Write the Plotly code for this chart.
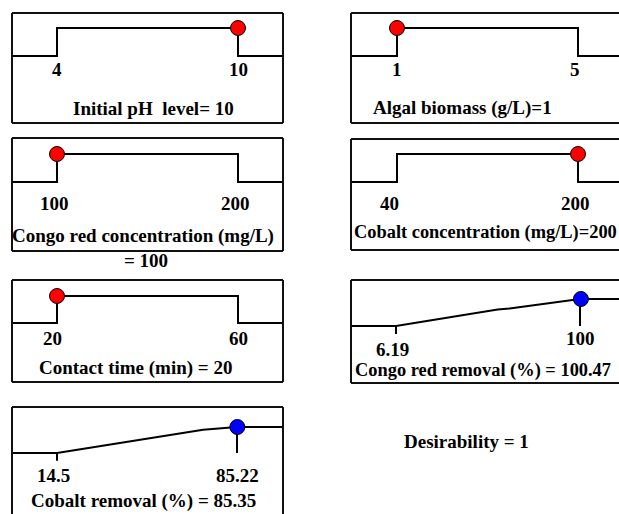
import plotly.graph_objects as go

# ---------------- data ----------------
# factor ranges and the chosen optimum setting
ph_limits = [4, 10]
ph_value = 10
biomass_limits = [1, 5]
biomass_value = 1
congo_conc_limits = [100, 200]
congo_conc_value = 100
cobalt_conc_limits = [40, 200]
cobalt_conc_value = 200
time_limits = [20, 60]
time_value = 20

# responses: limits, desirability ramp and predicted value
congo_removal_limits = [6.19, 100]
congo_removal_ramp_x = [6.19, 58.0, 64.1, 100]
congo_removal_ramp_d = [0, 0.61, 0.65, 1]
congo_removal_value = 100.47

cobalt_removal_limits = [14.5, 85.22]
cobalt_removal_ramp_x = [14.5, 71.9, 77.4, 85.22]
cobalt_removal_ramp_d = [0, 0.89, 0.93, 1]
cobalt_removal_value = 85.35

desirability = 1

# ---------------- layout helpers ----------------
W, H = 619, 514
FONT = "Liberation Serif"
FSIZE = 19
LINE = dict(color="black", width=2)


def px(x):
    return x / W


def py(y):
    return 1 - y / H


fig = go.Figure()
annotations = []
shapes = []


def panel(i, box_x, box_y, lo_hi_px, lo_hi_y, limits, sides="lrtb"):
    """Create axis pair i covering a pixel box; returns axis names."""
    bl, br = box_x
    bt, bb = box_y
    lo_px, hi_px = lo_hi_px
    hi_y, lo_y = lo_hi_y
    lo, hi = limits
    sx = (hi - lo) / (hi_px - lo_px)
    xr = [lo - (lo_px - bl) * sx, hi + (min(br, W) - hi_px) * sx]
    sy = 1.0 / (lo_y - hi_y)
    yr = [-(min(bb, H) - lo_y) * sy, 1 + (hi_y - bt) * sy]
    xa = "xaxis" if i == 1 else f"xaxis{i}"
    ya = "yaxis" if i == 1 else f"yaxis{i}"
    xn = "x" if i == 1 else f"x{i}"
    yn = "y" if i == 1 else f"y{i}"
    fig.update_layout({
        xa: dict(domain=[px(bl), px(min(br, W))], range=xr, visible=False,
                 anchor=yn, fixedrange=True),
        ya: dict(domain=[py(min(bb, H)), py(bt)], range=yr, visible=False,
                 anchor=xn, fixedrange=True),
    })
    xd, yd = f"{xn} domain", f"{yn} domain"
    edges = {"l": (0, 0, 0, 1), "r": (1, 0, 1, 1),
             "t": (0, 1, 1, 1), "b": (0, 0, 1, 0)}
    for s in sides:
        x0, y0, x1, y1 = edges[s]
        shapes.append(dict(type="line", xref=xd, yref=yd, x0=x0, y0=y0,
                           x1=x1, y1=y1, line=dict(color="#111", width=2)))
    return xn, yn, xr


def factor(i, box_x, box_y, lo_hi_px, lo_hi_y, limits, value, sides="lrtb"):
    xn, yn, xr = panel(i, box_x, box_y, lo_hi_px, lo_hi_y, limits, sides)
    lo, hi = limits
    fig.add_trace(go.Scatter(x=[xr[0], lo, lo, hi, hi, xr[1]],
                             y=[0, 0, 1, 1, 0, 0], mode="lines", line=LINE,
                             xaxis=xn, yaxis=yn, hoverinfo="skip"))
    fig.add_trace(go.Scatter(x=[value], y=[1], mode="markers",
                             marker=dict(size=15, color="#ff0000",
                                         line=dict(color="black", width=1)),
                             xaxis=xn, yaxis=yn))
    return xn, yn


def response(i, box_x, box_y, lo_hi_px, lo_hi_y, limits, rx, rd, value,
             sides="lrtb"):
    xn, yn, xr = panel(i, box_x, box_y, lo_hi_px, lo_hi_y, limits, sides)
    lo, hi = limits
    fig.add_trace(go.Scatter(x=[xr[0]] + rx + [xr[1]],
                             y=[rd[0]] + rd + [rd[-1]], mode="lines",
                             line=LINE, xaxis=xn, yaxis=yn, hoverinfo="skip"))
    fig.add_trace(go.Scatter(x=[lo, lo], y=[0, -0.3], mode="lines", line=LINE,
                             xaxis=xn, yaxis=yn, hoverinfo="skip"))
    fig.add_trace(go.Scatter(x=[hi, hi], y=[1, 0], mode="lines", line=LINE,
                             xaxis=xn, yaxis=yn, hoverinfo="skip"))
    fig.add_trace(go.Scatter(x=[value], y=[1], mode="markers",
                             marker=dict(size=15, color="#0000ff",
                                         line=dict(color="black", width=1)),
                             xaxis=xn, yaxis=yn))
    return xn, yn


def tick(xn, value, y, xshift=0):
    annotations.append(dict(text=f"<b>{value}</b>", xref=xn, yref="paper",
                            x=value, y=py(y), xshift=xshift, showarrow=False,
                            xanchor="center", yanchor="middle",
                            font=dict(family=FONT, size=FSIZE, color="black")))


def title(text, cx, cy, size=FSIZE):
    annotations.append(dict(text=f"<b>{text}</b>", xref="paper", yref="paper",
                            x=px(cx), y=py(cy), showarrow=False,
                            xanchor="center", yanchor="middle",
                            font=dict(family=FONT, size=size, color="black")))


LEFT = (12, 283)
RIGHT = (351, 622)

# Initial pH
xn, _ = factor(1, LEFT, (13, 123), (57, 238), (28, 56), ph_limits, ph_value)
tick(xn, ph_limits[0], 70)
tick(xn, ph_limits[1], 70)
title(f"Initial pH\u00a0 level= {ph_value}", 153, 108)

# Algal biomass
xn, _ = factor(2, RIGHT, (13, 123), (397, 578), (28, 56), biomass_limits,
               biomass_value, sides="ltb")
tick(xn, biomass_limits[0], 70)
tick(xn, biomass_limits[1], 70, -3)
title(f"Algal biomass (g/L)={biomass_value}", 462, 108)

# Congo red concentration
xn, _ = factor(3, LEFT, (138, 251), (57, 238), (154, 182), congo_conc_limits,
               congo_conc_value)
tick(xn, congo_conc_limits[0], 204, -3)
tick(xn, congo_conc_limits[1], 204, -3)
title("Congo red concentration (mg/L)", 143, 236)
title(f"= {congo_conc_value}", 146, 260)

# Cobalt concentration
xn, _ = factor(4, RIGHT, (139, 250), (397, 578), (154, 182),
               cobalt_conc_limits, cobalt_conc_value, sides="ltb")
tick(xn, cobalt_conc_limits[0], 204, -8)
tick(xn, cobalt_conc_limits[1], 204, -3)
title(f"Cobalt concentration (mg/L)={cobalt_conc_value}", 486, 233, 18.4)

# Contact time
xn, _ = factor(5, LEFT, (280, 382), (57, 238), (296, 323), time_limits,
               time_value)
tick(xn, time_limits[0], 338, -5)
tick(xn, time_limits[1], 338)
title(f"Contact time (min) = {time_value}", 135, 368)

# Congo red removal
xn, _ = response(6, RIGHT, (280, 383), (396, 580), (299, 326),
                 congo_removal_limits, congo_removal_ramp_x,
                 congo_removal_ramp_d, congo_removal_value, sides="ltb")
tick(xn, congo_removal_limits[0], 349, -4)
tick(xn, int(congo_removal_limits[1]), 338)
title(f"Congo red removal (%) = {congo_removal_value}", 483, 370, 18.4)

# Cobalt removal
xn, _ = response(7, LEFT, (407, 530), (57, 237), (427, 453),
                 cobalt_removal_limits, cobalt_removal_ramp_x,
                 cobalt_removal_ramp_d, cobalt_removal_value, sides="lrt")
tick(xn, cobalt_removal_limits[0], 475, -4)
tick(xn, cobalt_removal_limits[1], 475)
title(f"Cobalt removal (%) = {cobalt_removal_value}", 143, 501)

# overall desirability
title(f"Desirability = {desirability}", 467, 441)

fig.update_layout(width=W, height=H, margin=dict(l=0, r=0, t=0, b=0),
                  paper_bgcolor="white", plot_bgcolor="white",
                  showlegend=False, annotations=annotations, shapes=shapes)

fig.write_html("out.html", config={"displayModeBar": False})
